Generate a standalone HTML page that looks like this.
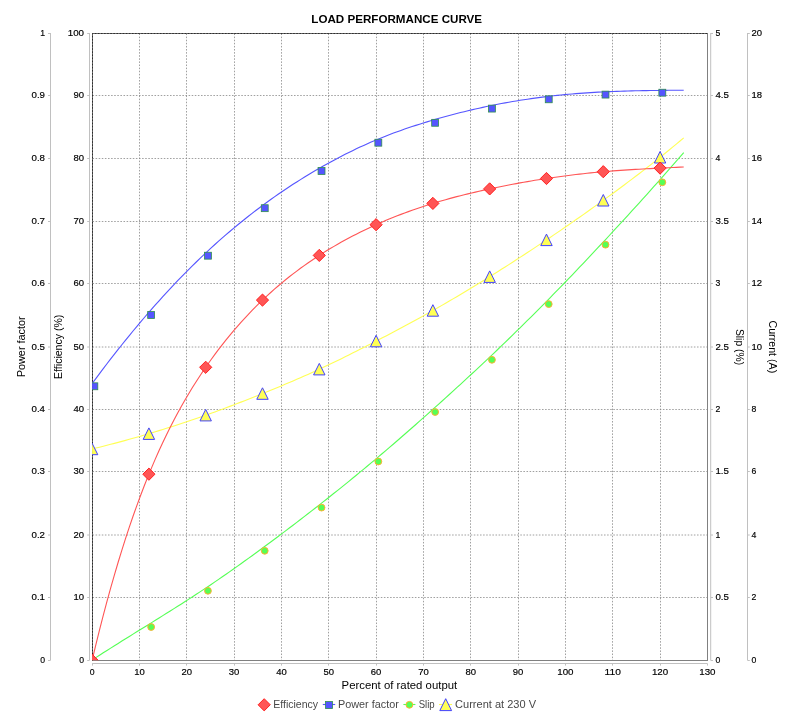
<!DOCTYPE html>
<html><head><meta charset="utf-8"><title>LOAD PERFORMANCE CURVE</title>
<style>html,body{margin:0;padding:0;background:#fff;}svg{display:block;will-change:transform;}text{font-family:"Liberation Sans",sans-serif;}</style></head><body>
<svg width="793" height="721" viewBox="0 0 793 721">
<rect width="793" height="721" fill="#fff"/>
<clipPath id="pc"><rect x="92.1" y="33.0" width="615.3" height="627.3"/></clipPath>
<text x="311.3" y="23.2" font-size="11.2" font-weight="bold" fill="#000" textLength="170.8" lengthAdjust="spacingAndGlyphs">LOAD PERFORMANCE CURVE</text>
<g stroke="#c0c0c0" stroke-width="1" fill="none">
<line x1="50.5" y1="33.0" x2="50.5" y2="660.3"/>
<line x1="89.5" y1="33.0" x2="89.5" y2="660.3"/>
<line x1="710.7" y1="33.0" x2="710.7" y2="660.3"/>
<line x1="747.5" y1="33.0" x2="747.5" y2="660.3"/>
<line x1="92.1" y1="663.5" x2="707.4" y2="663.5"/>
<line x1="48" y1="660.50" x2="50.5" y2="660.50"/>
<line x1="87.2" y1="660.50" x2="89.5" y2="660.50"/>
<line x1="710.7" y1="660.50" x2="713" y2="660.50"/>
<line x1="747.5" y1="660.50" x2="749.8" y2="660.50"/>
<line x1="48" y1="597.50" x2="50.5" y2="597.50"/>
<line x1="87.2" y1="597.50" x2="89.5" y2="597.50"/>
<line x1="710.7" y1="597.50" x2="713" y2="597.50"/>
<line x1="747.5" y1="597.50" x2="749.8" y2="597.50"/>
<line x1="48" y1="535.00" x2="50.5" y2="535.00"/>
<line x1="87.2" y1="535.00" x2="89.5" y2="535.00"/>
<line x1="710.7" y1="535.00" x2="713" y2="535.00"/>
<line x1="747.5" y1="535.00" x2="749.8" y2="535.00"/>
<line x1="48" y1="471.50" x2="50.5" y2="471.50"/>
<line x1="87.2" y1="471.50" x2="89.5" y2="471.50"/>
<line x1="710.7" y1="471.50" x2="713" y2="471.50"/>
<line x1="747.5" y1="471.50" x2="749.8" y2="471.50"/>
<line x1="48" y1="409.50" x2="50.5" y2="409.50"/>
<line x1="87.2" y1="409.50" x2="89.5" y2="409.50"/>
<line x1="710.7" y1="409.50" x2="713" y2="409.50"/>
<line x1="747.5" y1="409.50" x2="749.8" y2="409.50"/>
<line x1="48" y1="347.00" x2="50.5" y2="347.00"/>
<line x1="87.2" y1="347.00" x2="89.5" y2="347.00"/>
<line x1="710.7" y1="347.00" x2="713" y2="347.00"/>
<line x1="747.5" y1="347.00" x2="749.8" y2="347.00"/>
<line x1="48" y1="283.50" x2="50.5" y2="283.50"/>
<line x1="87.2" y1="283.50" x2="89.5" y2="283.50"/>
<line x1="710.7" y1="283.50" x2="713" y2="283.50"/>
<line x1="747.5" y1="283.50" x2="749.8" y2="283.50"/>
<line x1="48" y1="221.50" x2="50.5" y2="221.50"/>
<line x1="87.2" y1="221.50" x2="89.5" y2="221.50"/>
<line x1="710.7" y1="221.50" x2="713" y2="221.50"/>
<line x1="747.5" y1="221.50" x2="749.8" y2="221.50"/>
<line x1="48" y1="158.50" x2="50.5" y2="158.50"/>
<line x1="87.2" y1="158.50" x2="89.5" y2="158.50"/>
<line x1="710.7" y1="158.50" x2="713" y2="158.50"/>
<line x1="747.5" y1="158.50" x2="749.8" y2="158.50"/>
<line x1="48" y1="95.50" x2="50.5" y2="95.50"/>
<line x1="87.2" y1="95.50" x2="89.5" y2="95.50"/>
<line x1="710.7" y1="95.50" x2="713" y2="95.50"/>
<line x1="747.5" y1="95.50" x2="749.8" y2="95.50"/>
<line x1="48" y1="33.50" x2="50.5" y2="33.50"/>
<line x1="87.2" y1="33.50" x2="89.5" y2="33.50"/>
<line x1="710.7" y1="33.50" x2="713" y2="33.50"/>
<line x1="747.5" y1="33.50" x2="749.8" y2="33.50"/>
<line x1="92.50" y1="663.5" x2="92.50" y2="665.6"/>
<line x1="139.50" y1="663.5" x2="139.50" y2="665.6"/>
<line x1="186.50" y1="663.5" x2="186.50" y2="665.6"/>
<line x1="234.50" y1="663.5" x2="234.50" y2="665.6"/>
<line x1="281.50" y1="663.5" x2="281.50" y2="665.6"/>
<line x1="328.50" y1="663.5" x2="328.50" y2="665.6"/>
<line x1="376.50" y1="663.5" x2="376.50" y2="665.6"/>
<line x1="423.50" y1="663.5" x2="423.50" y2="665.6"/>
<line x1="470.50" y1="663.5" x2="470.50" y2="665.6"/>
<line x1="518.50" y1="663.5" x2="518.50" y2="665.6"/>
<line x1="565.50" y1="663.5" x2="565.50" y2="665.6"/>
<line x1="612.50" y1="663.5" x2="612.50" y2="665.6"/>
<line x1="660.50" y1="663.5" x2="660.50" y2="665.6"/>
<line x1="707.50" y1="663.5" x2="707.50" y2="665.6"/>
</g>
<g stroke="#808080" stroke-width="0.75" stroke-dasharray="1.55 1.55" fill="none">
<line x1="92.5" y1="597.50" x2="707.5" y2="597.50"/>
<line x1="92.5" y1="535.00" x2="707.5" y2="535.00"/>
<line x1="92.5" y1="471.50" x2="707.5" y2="471.50"/>
<line x1="92.5" y1="409.50" x2="707.5" y2="409.50"/>
<line x1="92.5" y1="347.00" x2="707.5" y2="347.00"/>
<line x1="92.5" y1="283.50" x2="707.5" y2="283.50"/>
<line x1="92.5" y1="221.50" x2="707.5" y2="221.50"/>
<line x1="92.5" y1="158.50" x2="707.5" y2="158.50"/>
<line x1="92.5" y1="95.50" x2="707.5" y2="95.50"/>
<line x1="139.50" y1="33.5" x2="139.50" y2="660.5"/>
<line x1="186.50" y1="33.5" x2="186.50" y2="660.5"/>
<line x1="234.50" y1="33.5" x2="234.50" y2="660.5"/>
<line x1="281.50" y1="33.5" x2="281.50" y2="660.5"/>
<line x1="328.50" y1="33.5" x2="328.50" y2="660.5"/>
<line x1="376.50" y1="33.5" x2="376.50" y2="660.5"/>
<line x1="423.50" y1="33.5" x2="423.50" y2="660.5"/>
<line x1="470.50" y1="33.5" x2="470.50" y2="660.5"/>
<line x1="518.50" y1="33.5" x2="518.50" y2="660.5"/>
<line x1="565.50" y1="33.5" x2="565.50" y2="660.5"/>
<line x1="612.50" y1="33.5" x2="612.50" y2="660.5"/>
<line x1="660.50" y1="33.5" x2="660.50" y2="660.5"/>
</g>
<rect x="92.5" y="33.5" width="615" height="627" fill="none" stroke="#808080" stroke-width="1"/>
<path d="M92.5,660.5 L92.5,33.5 L707.5,33.5" fill="none" stroke="#6c6c6c" stroke-width="1"/>
<path d="M92.5,660.5 L92.5,33.5 L707.5,33.5" fill="none" stroke="#2c2c2c" stroke-width="1" stroke-dasharray="1.55 1.55"/>
<g clip-path="url(#pc)">
<path d="M92.10,449.00 L95.82,448.09 L99.54,447.17 L103.26,446.24 L106.98,445.29 L110.70,444.34 L114.43,443.36 L118.15,442.37 L121.87,441.37 L125.59,440.36 L129.31,439.33 L133.03,438.29 L136.75,437.24 L140.47,436.17 L144.19,435.09 L147.91,433.99 L151.64,432.88 L155.36,431.76 L159.08,430.62 L162.80,429.47 L166.52,428.31 L170.24,427.13 L173.96,425.94 L177.68,424.73 L181.40,423.51 L185.12,422.28 L188.85,421.03 L192.57,419.77 L196.29,418.49 L200.01,417.20 L203.73,415.89 L207.45,414.58 L211.17,413.24 L214.89,411.90 L218.61,410.54 L222.33,409.17 L226.06,407.78 L229.78,406.38 L233.50,404.97 L237.22,403.55 L240.94,402.12 L244.66,400.67 L248.38,399.22 L252.10,397.75 L255.82,396.27 L259.54,394.78 L263.26,393.29 L266.99,391.78 L270.71,390.26 L274.43,388.74 L278.15,387.20 L281.87,385.64 L285.59,384.08 L289.31,382.50 L293.03,380.91 L296.75,379.30 L300.47,377.67 L304.20,376.03 L307.92,374.38 L311.64,372.70 L315.36,371.01 L319.08,369.30 L322.80,367.57 L326.52,365.82 L330.24,364.05 L333.96,362.26 L337.68,360.46 L341.41,358.64 L345.13,356.81 L348.85,354.96 L352.57,353.10 L356.29,351.23 L360.01,349.35 L363.73,347.46 L367.45,345.55 L371.17,343.64 L374.89,341.72 L378.61,339.79 L382.34,337.85 L386.06,335.91 L389.78,333.95 L393.50,331.99 L397.22,330.02 L400.94,328.03 L404.66,326.04 L408.38,324.03 L412.10,322.01 L415.82,319.98 L419.55,317.94 L423.27,315.88 L426.99,313.81 L430.71,311.73 L434.43,309.62 L438.15,307.51 L441.87,305.37 L445.59,303.23 L449.31,301.06 L453.03,298.89 L456.76,296.69 L460.48,294.49 L464.20,292.27 L467.92,290.03 L471.64,287.79 L475.36,285.52 L479.08,283.25 L482.80,280.96 L486.52,278.66 L490.24,276.35 L493.97,274.02 L497.69,271.68 L501.41,269.33 L505.13,266.97 L508.85,264.59 L512.57,262.21 L516.29,259.81 L520.01,257.40 L523.73,254.97 L527.45,252.54 L531.17,250.09 L534.90,247.63 L538.62,245.16 L542.34,242.67 L546.06,240.18 L549.78,237.67 L553.50,235.16 L557.22,232.63 L560.94,230.08 L564.66,227.53 L568.38,224.96 L572.11,222.39 L575.83,219.80 L579.55,217.19 L583.27,214.58 L586.99,211.95 L590.71,209.31 L594.43,206.66 L598.15,203.99 L601.87,201.31 L605.59,198.62 L609.32,195.91 L613.04,193.19 L616.76,190.46 L620.48,187.71 L624.20,184.94 L627.92,182.16 L631.64,179.36 L635.36,176.54 L639.08,173.70 L642.80,170.84 L646.52,167.96 L650.25,165.06 L653.97,162.14 L657.69,159.20 L661.41,156.23 L665.13,153.24 L668.85,150.22 L672.57,147.18 L676.29,144.11 L680.01,141.02 L683.73,137.90" fill="none" stroke="#ffff55" stroke-width="1.1"/>
<path d="M92.10,443.20 L97.80,454.70 L86.40,454.70Z" fill="#ffff55" stroke="#4040ff" stroke-width="1"/>
<path d="M148.90,427.90 L154.60,439.40 L143.20,439.40Z" fill="#ffff55" stroke="#4040ff" stroke-width="1"/>
<path d="M205.69,409.40 L211.39,420.90 L199.99,420.90Z" fill="#ffff55" stroke="#4040ff" stroke-width="1"/>
<path d="M262.49,387.80 L268.19,399.30 L256.79,399.30Z" fill="#ffff55" stroke="#4040ff" stroke-width="1"/>
<path d="M319.29,363.40 L324.99,374.90 L313.59,374.90Z" fill="#ffff55" stroke="#4040ff" stroke-width="1"/>
<path d="M376.08,335.30 L381.78,346.80 L370.38,346.80Z" fill="#ffff55" stroke="#4040ff" stroke-width="1"/>
<path d="M432.88,304.70 L438.58,316.20 L427.18,316.20Z" fill="#ffff55" stroke="#4040ff" stroke-width="1"/>
<path d="M489.68,270.90 L495.38,282.40 L483.98,282.40Z" fill="#ffff55" stroke="#4040ff" stroke-width="1"/>
<path d="M546.48,234.10 L552.18,245.60 L540.78,245.60Z" fill="#ffff55" stroke="#4040ff" stroke-width="1"/>
<path d="M603.27,194.50 L608.97,206.00 L597.57,206.00Z" fill="#ffff55" stroke="#4040ff" stroke-width="1"/>
<path d="M660.07,151.50 L665.77,163.00 L654.37,163.00Z" fill="#ffff55" stroke="#4040ff" stroke-width="1"/>
<path d="M92.10,660.00 L95.82,657.59 L99.54,655.20 L103.26,652.82 L106.98,650.45 L110.70,648.09 L114.43,645.75 L118.15,643.41 L121.87,641.09 L125.59,638.76 L129.31,636.45 L133.03,634.14 L136.75,631.83 L140.47,629.52 L144.19,627.22 L147.91,624.91 L151.64,622.60 L155.36,620.29 L159.08,617.97 L162.80,615.65 L166.52,613.32 L170.24,610.99 L173.96,608.64 L177.68,606.29 L181.40,603.92 L185.12,601.54 L188.85,599.15 L192.57,596.74 L196.29,594.31 L200.01,591.87 L203.73,589.41 L207.45,586.93 L211.17,584.42 L214.89,581.90 L218.61,579.36 L222.33,576.80 L226.06,574.22 L229.78,571.62 L233.50,569.01 L237.22,566.37 L240.94,563.73 L244.66,561.06 L248.38,558.38 L252.10,555.69 L255.82,552.98 L259.54,550.26 L263.26,547.53 L266.99,544.78 L270.71,542.03 L274.43,539.25 L278.15,536.47 L281.87,533.68 L285.59,530.87 L289.31,528.05 L293.03,525.22 L296.75,522.37 L300.47,519.52 L304.20,516.65 L307.92,513.77 L311.64,510.88 L315.36,507.98 L319.08,505.06 L322.80,502.14 L326.52,499.20 L330.24,496.25 L333.96,493.29 L337.68,490.32 L341.41,487.33 L345.13,484.33 L348.85,481.32 L352.57,478.29 L356.29,475.25 L360.01,472.19 L363.73,469.12 L367.45,466.03 L371.17,462.92 L374.89,459.80 L378.61,456.66 L382.34,453.51 L386.06,450.34 L389.78,447.16 L393.50,443.96 L397.22,440.74 L400.94,437.51 L404.66,434.27 L408.38,431.02 L412.10,427.75 L415.82,424.47 L419.55,421.18 L423.27,417.88 L426.99,414.57 L430.71,411.24 L434.43,407.91 L438.15,404.57 L441.87,401.22 L445.59,397.86 L449.31,394.49 L453.03,391.11 L456.76,387.71 L460.48,384.30 L464.20,380.88 L467.92,377.45 L471.64,374.01 L475.36,370.55 L479.08,367.07 L482.80,363.59 L486.52,360.08 L490.24,356.56 L493.97,353.03 L497.69,349.48 L501.41,345.91 L505.13,342.33 L508.85,338.73 L512.57,335.11 L516.29,331.48 L520.01,327.83 L523.73,324.17 L527.45,320.48 L531.17,316.79 L534.90,313.07 L538.62,309.34 L542.34,305.59 L546.06,301.82 L549.78,298.04 L553.50,294.24 L557.22,290.42 L560.94,286.59 L564.66,282.75 L568.38,278.88 L572.11,275.01 L575.83,271.11 L579.55,267.21 L583.27,263.29 L586.99,259.36 L590.71,255.41 L594.43,251.45 L598.15,247.48 L601.87,243.50 L605.59,239.51 L609.32,235.50 L613.04,231.49 L616.76,227.46 L620.48,223.42 L624.20,219.36 L627.92,215.30 L631.64,211.22 L635.36,207.13 L639.08,203.02 L642.80,198.90 L646.52,194.77 L650.25,190.62 L653.97,186.46 L657.69,182.28 L661.41,178.09 L665.13,173.88 L668.85,169.66 L672.57,165.42 L676.29,161.16 L680.01,156.89 L683.73,152.60" fill="none" stroke="#55ff55" stroke-width="1.1"/>
<circle cx="151.15" cy="627.00" r="3.4" fill="#55ff55" stroke="#ffb030" stroke-width="1"/>
<circle cx="207.94" cy="590.80" r="3.4" fill="#55ff55" stroke="#ffb030" stroke-width="1"/>
<circle cx="264.74" cy="550.80" r="3.4" fill="#55ff55" stroke="#ffb030" stroke-width="1"/>
<circle cx="321.54" cy="507.60" r="3.4" fill="#55ff55" stroke="#ffb030" stroke-width="1"/>
<circle cx="378.33" cy="461.50" r="3.4" fill="#55ff55" stroke="#ffb030" stroke-width="1"/>
<circle cx="435.13" cy="412.00" r="3.4" fill="#55ff55" stroke="#ffb030" stroke-width="1"/>
<circle cx="491.93" cy="359.80" r="3.4" fill="#55ff55" stroke="#ffb030" stroke-width="1"/>
<circle cx="548.73" cy="304.10" r="3.4" fill="#55ff55" stroke="#ffb030" stroke-width="1"/>
<circle cx="605.52" cy="244.70" r="3.4" fill="#55ff55" stroke="#ffb030" stroke-width="1"/>
<circle cx="662.32" cy="182.30" r="3.4" fill="#55ff55" stroke="#ffb030" stroke-width="1"/>
<path d="M92.10,383.60 L95.82,378.56 L99.54,373.58 L103.26,368.65 L106.98,363.76 L110.70,358.93 L114.43,354.15 L118.15,349.42 L121.87,344.74 L125.59,340.12 L129.31,335.54 L133.03,331.02 L136.75,326.54 L140.47,322.12 L144.19,317.75 L147.91,313.43 L151.64,309.16 L155.36,304.95 L159.08,300.78 L162.80,296.67 L166.52,292.61 L170.24,288.60 L173.96,284.64 L177.68,280.74 L181.40,276.88 L185.12,273.08 L188.85,269.33 L192.57,265.63 L196.29,261.99 L200.01,258.39 L203.73,254.85 L207.45,251.36 L211.17,247.92 L214.89,244.53 L218.61,241.20 L222.33,237.91 L226.06,234.67 L229.78,231.48 L233.50,228.35 L237.22,225.26 L240.94,222.21 L244.66,219.22 L248.38,216.27 L252.10,213.36 L255.82,210.51 L259.54,207.70 L263.26,204.93 L266.99,202.20 L270.71,199.52 L274.43,196.89 L278.15,194.29 L281.87,191.74 L285.59,189.23 L289.31,186.76 L293.03,184.33 L296.75,181.94 L300.47,179.59 L304.20,177.28 L307.92,175.01 L311.64,172.78 L315.36,170.58 L319.08,168.42 L322.80,166.30 L326.52,164.21 L330.24,162.16 L333.96,160.15 L337.68,158.17 L341.41,156.23 L345.13,154.33 L348.85,152.47 L352.57,150.64 L356.29,148.85 L360.01,147.11 L363.73,145.40 L367.45,143.73 L371.17,142.09 L374.89,140.50 L378.61,138.95 L382.34,137.43 L386.06,135.96 L389.78,134.52 L393.50,133.11 L397.22,131.74 L400.94,130.40 L404.66,129.10 L408.38,127.82 L412.10,126.58 L415.82,125.36 L419.55,124.17 L423.27,123.00 L426.99,121.86 L430.71,120.74 L434.43,119.65 L438.15,118.57 L441.87,117.52 L445.59,116.49 L449.31,115.48 L453.03,114.49 L456.76,113.53 L460.48,112.58 L464.20,111.66 L467.92,110.76 L471.64,109.87 L475.36,109.01 L479.08,108.17 L482.80,107.36 L486.52,106.56 L490.24,105.78 L493.97,105.03 L497.69,104.29 L501.41,103.58 L505.13,102.89 L508.85,102.22 L512.57,101.57 L516.29,100.94 L520.01,100.33 L523.73,99.74 L527.45,99.17 L531.17,98.63 L534.90,98.10 L538.62,97.60 L542.34,97.11 L546.06,96.65 L549.78,96.21 L553.50,95.79 L557.22,95.38 L560.94,95.00 L564.66,94.64 L568.38,94.30 L572.11,93.97 L575.83,93.66 L579.55,93.37 L583.27,93.10 L586.99,92.84 L590.71,92.60 L594.43,92.37 L598.15,92.16 L601.87,91.97 L605.59,91.79 L609.32,91.62 L613.04,91.47 L616.76,91.33 L620.48,91.20 L624.20,91.08 L627.92,90.98 L631.64,90.88 L635.36,90.79 L639.08,90.71 L642.80,90.64 L646.52,90.58 L650.25,90.52 L653.97,90.47 L657.69,90.43 L661.41,90.39 L665.13,90.35 L668.85,90.32 L672.57,90.28 L676.29,90.25 L680.01,90.23 L683.73,90.20" fill="none" stroke="#5555ff" stroke-width="1.1"/>
<rect x="90.90" y="382.85" width="6.9" height="6.9" fill="#5555ff" stroke="#2f8f4f" stroke-width="0.8"/>
<rect x="147.70" y="311.55" width="6.9" height="6.9" fill="#5555ff" stroke="#2f8f4f" stroke-width="0.8"/>
<rect x="204.49" y="252.25" width="6.9" height="6.9" fill="#5555ff" stroke="#2f8f4f" stroke-width="0.8"/>
<rect x="261.29" y="204.75" width="6.9" height="6.9" fill="#5555ff" stroke="#2f8f4f" stroke-width="0.8"/>
<rect x="318.09" y="167.55" width="6.9" height="6.9" fill="#5555ff" stroke="#2f8f4f" stroke-width="0.8"/>
<rect x="374.88" y="139.25" width="6.9" height="6.9" fill="#5555ff" stroke="#2f8f4f" stroke-width="0.8"/>
<rect x="431.68" y="119.35" width="6.9" height="6.9" fill="#5555ff" stroke="#2f8f4f" stroke-width="0.8"/>
<rect x="488.48" y="105.15" width="6.9" height="6.9" fill="#5555ff" stroke="#2f8f4f" stroke-width="0.8"/>
<rect x="545.28" y="95.85" width="6.9" height="6.9" fill="#5555ff" stroke="#2f8f4f" stroke-width="0.8"/>
<rect x="602.07" y="91.15" width="6.9" height="6.9" fill="#5555ff" stroke="#2f8f4f" stroke-width="0.8"/>
<rect x="658.87" y="89.25" width="6.9" height="6.9" fill="#5555ff" stroke="#2f8f4f" stroke-width="0.8"/>
<path d="M92.10,660.30 L95.82,644.80 L99.54,629.81 L103.26,615.34 L106.98,601.36 L110.70,587.86 L114.43,574.83 L118.15,562.26 L121.87,550.13 L125.59,538.43 L129.31,527.16 L133.03,516.29 L136.75,505.81 L140.47,495.71 L144.19,485.99 L147.91,476.62 L151.64,467.59 L155.36,458.89 L159.08,450.51 L162.80,442.44 L166.52,434.66 L170.24,427.16 L173.96,419.92 L177.68,412.94 L181.40,406.21 L185.12,399.70 L188.85,393.41 L192.57,387.32 L196.29,381.43 L200.01,375.72 L203.73,370.17 L207.45,364.77 L211.17,359.52 L214.89,354.42 L218.61,349.45 L222.33,344.62 L226.06,339.91 L229.78,335.34 L233.50,330.89 L237.22,326.56 L240.94,322.35 L244.66,318.26 L248.38,314.27 L252.10,310.39 L255.82,306.62 L259.54,302.94 L263.26,299.36 L266.99,295.88 L270.71,292.48 L274.43,289.18 L278.15,285.96 L281.87,282.82 L285.59,279.77 L289.31,276.79 L293.03,273.89 L296.75,271.07 L300.47,268.31 L304.20,265.63 L307.92,263.01 L311.64,260.46 L315.36,257.97 L319.08,255.53 L322.80,253.16 L326.52,250.84 L330.24,248.58 L333.96,246.37 L337.68,244.21 L341.41,242.10 L345.13,240.04 L348.85,238.04 L352.57,236.07 L356.29,234.16 L360.01,232.29 L363.73,230.46 L367.45,228.68 L371.17,226.94 L374.89,225.24 L378.61,223.57 L382.34,221.95 L386.06,220.36 L389.78,218.81 L393.50,217.30 L397.22,215.82 L400.94,214.38 L404.66,212.98 L408.38,211.61 L412.10,210.27 L415.82,208.97 L419.55,207.69 L423.27,206.46 L426.99,205.25 L430.71,204.07 L434.43,202.93 L438.15,201.81 L441.87,200.73 L445.59,199.67 L449.31,198.64 L453.03,197.63 L456.76,196.65 L460.48,195.69 L464.20,194.76 L467.92,193.85 L471.64,192.96 L475.36,192.09 L479.08,191.23 L482.80,190.40 L486.52,189.58 L490.24,188.78 L493.97,187.99 L497.69,187.22 L501.41,186.46 L505.13,185.72 L508.85,184.99 L512.57,184.28 L516.29,183.59 L520.01,182.90 L523.73,182.24 L527.45,181.59 L531.17,180.95 L534.90,180.33 L538.62,179.73 L542.34,179.14 L546.06,178.56 L549.78,178.00 L553.50,177.46 L557.22,176.93 L560.94,176.42 L564.66,175.93 L568.38,175.44 L572.11,174.98 L575.83,174.53 L579.55,174.10 L583.27,173.68 L586.99,173.28 L590.71,172.89 L594.43,172.52 L598.15,172.16 L601.87,171.82 L605.59,171.50 L609.32,171.19 L613.04,170.90 L616.76,170.62 L620.48,170.35 L624.20,170.10 L627.92,169.85 L631.64,169.62 L635.36,169.40 L639.08,169.18 L642.80,168.98 L646.52,168.78 L650.25,168.58 L653.97,168.40 L657.69,168.21 L661.41,168.04 L665.13,167.86 L668.85,167.69 L672.57,167.52 L676.29,167.34 L680.01,167.17 L683.73,167.00" fill="none" stroke="#ff5555" stroke-width="1.1"/>
<path d="M92.10,654.20 L98.20,660.30 L92.10,666.40 L86.00,660.30Z" fill="#ff5555" stroke="#ff2020" stroke-width="1"/>
<path d="M148.90,468.10 L155.00,474.20 L148.90,480.30 L142.80,474.20Z" fill="#ff5555" stroke="#ff2020" stroke-width="1"/>
<path d="M205.69,361.20 L211.79,367.30 L205.69,373.40 L199.59,367.30Z" fill="#ff5555" stroke="#ff2020" stroke-width="1"/>
<path d="M262.49,294.00 L268.59,300.10 L262.49,306.20 L256.39,300.10Z" fill="#ff5555" stroke="#ff2020" stroke-width="1"/>
<path d="M319.29,249.30 L325.39,255.40 L319.29,261.50 L313.19,255.40Z" fill="#ff5555" stroke="#ff2020" stroke-width="1"/>
<path d="M376.08,218.60 L382.18,224.70 L376.08,230.80 L369.98,224.70Z" fill="#ff5555" stroke="#ff2020" stroke-width="1"/>
<path d="M432.88,197.30 L438.98,203.40 L432.88,209.50 L426.78,203.40Z" fill="#ff5555" stroke="#ff2020" stroke-width="1"/>
<path d="M489.68,182.80 L495.78,188.90 L489.68,195.00 L483.58,188.90Z" fill="#ff5555" stroke="#ff2020" stroke-width="1"/>
<path d="M546.48,172.40 L552.58,178.50 L546.48,184.60 L540.38,178.50Z" fill="#ff5555" stroke="#ff2020" stroke-width="1"/>
<path d="M603.27,165.60 L609.37,171.70 L603.27,177.80 L597.17,171.70Z" fill="#ff5555" stroke="#ff2020" stroke-width="1"/>
<path d="M660.07,162.00 L666.17,168.10 L660.07,174.20 L653.97,168.10Z" fill="#ff5555" stroke="#ff2020" stroke-width="1"/>
</g>
<text x="45.00" y="663.10" font-size="9.9" text-anchor="end" fill="#000" stroke="#000" stroke-width="0.18" textLength="4.83" lengthAdjust="spacingAndGlyphs">0</text>
<text x="84.00" y="663.10" font-size="9.9" text-anchor="end" fill="#000" stroke="#000" stroke-width="0.18" textLength="4.83" lengthAdjust="spacingAndGlyphs">0</text>
<text x="715.40" y="663.10" font-size="9.9" text-anchor="start" fill="#000" stroke="#000" stroke-width="0.18" textLength="4.83" lengthAdjust="spacingAndGlyphs">0</text>
<text x="751.60" y="663.10" font-size="9.9" text-anchor="start" fill="#000" stroke="#000" stroke-width="0.18" textLength="4.83" lengthAdjust="spacingAndGlyphs">0</text>
<text x="45.00" y="600.10" font-size="9.9" text-anchor="end" fill="#000" stroke="#000" stroke-width="0.18" textLength="13.46" lengthAdjust="spacingAndGlyphs">0.1</text>
<text x="84.00" y="600.10" font-size="9.9" text-anchor="end" fill="#000" stroke="#000" stroke-width="0.18" textLength="10.56" lengthAdjust="spacingAndGlyphs">10</text>
<text x="715.40" y="600.10" font-size="9.9" text-anchor="start" fill="#000" stroke="#000" stroke-width="0.18" textLength="13.46" lengthAdjust="spacingAndGlyphs">0.5</text>
<text x="751.60" y="600.10" font-size="9.9" text-anchor="start" fill="#000" stroke="#000" stroke-width="0.18" textLength="4.83" lengthAdjust="spacingAndGlyphs">2</text>
<text x="45.00" y="537.60" font-size="9.9" text-anchor="end" fill="#000" stroke="#000" stroke-width="0.18" textLength="13.46" lengthAdjust="spacingAndGlyphs">0.2</text>
<text x="84.00" y="537.60" font-size="9.9" text-anchor="end" fill="#000" stroke="#000" stroke-width="0.18" textLength="10.56" lengthAdjust="spacingAndGlyphs">20</text>
<text x="715.40" y="537.60" font-size="9.9" text-anchor="start" fill="#000" stroke="#000" stroke-width="0.18" textLength="4.83" lengthAdjust="spacingAndGlyphs">1</text>
<text x="751.60" y="537.60" font-size="9.9" text-anchor="start" fill="#000" stroke="#000" stroke-width="0.18" textLength="4.83" lengthAdjust="spacingAndGlyphs">4</text>
<text x="45.00" y="474.10" font-size="9.9" text-anchor="end" fill="#000" stroke="#000" stroke-width="0.18" textLength="13.46" lengthAdjust="spacingAndGlyphs">0.3</text>
<text x="84.00" y="474.10" font-size="9.9" text-anchor="end" fill="#000" stroke="#000" stroke-width="0.18" textLength="10.56" lengthAdjust="spacingAndGlyphs">30</text>
<text x="715.40" y="474.10" font-size="9.9" text-anchor="start" fill="#000" stroke="#000" stroke-width="0.18" textLength="13.46" lengthAdjust="spacingAndGlyphs">1.5</text>
<text x="751.60" y="474.10" font-size="9.9" text-anchor="start" fill="#000" stroke="#000" stroke-width="0.18" textLength="4.83" lengthAdjust="spacingAndGlyphs">6</text>
<text x="45.00" y="412.10" font-size="9.9" text-anchor="end" fill="#000" stroke="#000" stroke-width="0.18" textLength="13.46" lengthAdjust="spacingAndGlyphs">0.4</text>
<text x="84.00" y="412.10" font-size="9.9" text-anchor="end" fill="#000" stroke="#000" stroke-width="0.18" textLength="10.56" lengthAdjust="spacingAndGlyphs">40</text>
<text x="715.40" y="412.10" font-size="9.9" text-anchor="start" fill="#000" stroke="#000" stroke-width="0.18" textLength="4.83" lengthAdjust="spacingAndGlyphs">2</text>
<text x="751.60" y="412.10" font-size="9.9" text-anchor="start" fill="#000" stroke="#000" stroke-width="0.18" textLength="4.83" lengthAdjust="spacingAndGlyphs">8</text>
<text x="45.00" y="349.60" font-size="9.9" text-anchor="end" fill="#000" stroke="#000" stroke-width="0.18" textLength="13.46" lengthAdjust="spacingAndGlyphs">0.5</text>
<text x="84.00" y="349.60" font-size="9.9" text-anchor="end" fill="#000" stroke="#000" stroke-width="0.18" textLength="10.56" lengthAdjust="spacingAndGlyphs">50</text>
<text x="715.40" y="349.60" font-size="9.9" text-anchor="start" fill="#000" stroke="#000" stroke-width="0.18" textLength="13.46" lengthAdjust="spacingAndGlyphs">2.5</text>
<text x="751.60" y="349.60" font-size="9.9" text-anchor="start" fill="#000" stroke="#000" stroke-width="0.18" textLength="10.56" lengthAdjust="spacingAndGlyphs">10</text>
<text x="45.00" y="286.10" font-size="9.9" text-anchor="end" fill="#000" stroke="#000" stroke-width="0.18" textLength="13.46" lengthAdjust="spacingAndGlyphs">0.6</text>
<text x="84.00" y="286.10" font-size="9.9" text-anchor="end" fill="#000" stroke="#000" stroke-width="0.18" textLength="10.56" lengthAdjust="spacingAndGlyphs">60</text>
<text x="715.40" y="286.10" font-size="9.9" text-anchor="start" fill="#000" stroke="#000" stroke-width="0.18" textLength="4.83" lengthAdjust="spacingAndGlyphs">3</text>
<text x="751.60" y="286.10" font-size="9.9" text-anchor="start" fill="#000" stroke="#000" stroke-width="0.18" textLength="10.56" lengthAdjust="spacingAndGlyphs">12</text>
<text x="45.00" y="224.10" font-size="9.9" text-anchor="end" fill="#000" stroke="#000" stroke-width="0.18" textLength="13.46" lengthAdjust="spacingAndGlyphs">0.7</text>
<text x="84.00" y="224.10" font-size="9.9" text-anchor="end" fill="#000" stroke="#000" stroke-width="0.18" textLength="10.56" lengthAdjust="spacingAndGlyphs">70</text>
<text x="715.40" y="224.10" font-size="9.9" text-anchor="start" fill="#000" stroke="#000" stroke-width="0.18" textLength="13.46" lengthAdjust="spacingAndGlyphs">3.5</text>
<text x="751.60" y="224.10" font-size="9.9" text-anchor="start" fill="#000" stroke="#000" stroke-width="0.18" textLength="10.56" lengthAdjust="spacingAndGlyphs">14</text>
<text x="45.00" y="161.10" font-size="9.9" text-anchor="end" fill="#000" stroke="#000" stroke-width="0.18" textLength="13.46" lengthAdjust="spacingAndGlyphs">0.8</text>
<text x="84.00" y="161.10" font-size="9.9" text-anchor="end" fill="#000" stroke="#000" stroke-width="0.18" textLength="10.56" lengthAdjust="spacingAndGlyphs">80</text>
<text x="715.40" y="161.10" font-size="9.9" text-anchor="start" fill="#000" stroke="#000" stroke-width="0.18" textLength="4.83" lengthAdjust="spacingAndGlyphs">4</text>
<text x="751.60" y="161.10" font-size="9.9" text-anchor="start" fill="#000" stroke="#000" stroke-width="0.18" textLength="10.56" lengthAdjust="spacingAndGlyphs">16</text>
<text x="45.00" y="98.10" font-size="9.9" text-anchor="end" fill="#000" stroke="#000" stroke-width="0.18" textLength="13.46" lengthAdjust="spacingAndGlyphs">0.9</text>
<text x="84.00" y="98.10" font-size="9.9" text-anchor="end" fill="#000" stroke="#000" stroke-width="0.18" textLength="10.56" lengthAdjust="spacingAndGlyphs">90</text>
<text x="715.40" y="98.10" font-size="9.9" text-anchor="start" fill="#000" stroke="#000" stroke-width="0.18" textLength="13.46" lengthAdjust="spacingAndGlyphs">4.5</text>
<text x="751.60" y="98.10" font-size="9.9" text-anchor="start" fill="#000" stroke="#000" stroke-width="0.18" textLength="10.56" lengthAdjust="spacingAndGlyphs">18</text>
<text x="45.00" y="36.10" font-size="9.9" text-anchor="end" fill="#000" stroke="#000" stroke-width="0.18" textLength="4.83" lengthAdjust="spacingAndGlyphs">1</text>
<text x="84.00" y="36.10" font-size="9.9" text-anchor="end" fill="#000" stroke="#000" stroke-width="0.18" textLength="16.29" lengthAdjust="spacingAndGlyphs">100</text>
<text x="715.40" y="36.10" font-size="9.9" text-anchor="start" fill="#000" stroke="#000" stroke-width="0.18" textLength="4.83" lengthAdjust="spacingAndGlyphs">5</text>
<text x="751.60" y="36.10" font-size="9.9" text-anchor="start" fill="#000" stroke="#000" stroke-width="0.18" textLength="10.56" lengthAdjust="spacingAndGlyphs">20</text>
<text x="92.10" y="675.10" font-size="9.9" text-anchor="middle" fill="#000" stroke="#000" stroke-width="0.18" textLength="4.83" lengthAdjust="spacingAndGlyphs">0</text>
<text x="139.43" y="675.10" font-size="9.9" text-anchor="middle" fill="#000" stroke="#000" stroke-width="0.18" textLength="10.56" lengthAdjust="spacingAndGlyphs">10</text>
<text x="186.76" y="675.10" font-size="9.9" text-anchor="middle" fill="#000" stroke="#000" stroke-width="0.18" textLength="10.56" lengthAdjust="spacingAndGlyphs">20</text>
<text x="234.09" y="675.10" font-size="9.9" text-anchor="middle" fill="#000" stroke="#000" stroke-width="0.18" textLength="10.56" lengthAdjust="spacingAndGlyphs">30</text>
<text x="281.42" y="675.10" font-size="9.9" text-anchor="middle" fill="#000" stroke="#000" stroke-width="0.18" textLength="10.56" lengthAdjust="spacingAndGlyphs">40</text>
<text x="328.75" y="675.10" font-size="9.9" text-anchor="middle" fill="#000" stroke="#000" stroke-width="0.18" textLength="10.56" lengthAdjust="spacingAndGlyphs">50</text>
<text x="376.08" y="675.10" font-size="9.9" text-anchor="middle" fill="#000" stroke="#000" stroke-width="0.18" textLength="10.56" lengthAdjust="spacingAndGlyphs">60</text>
<text x="423.42" y="675.10" font-size="9.9" text-anchor="middle" fill="#000" stroke="#000" stroke-width="0.18" textLength="10.56" lengthAdjust="spacingAndGlyphs">70</text>
<text x="470.75" y="675.10" font-size="9.9" text-anchor="middle" fill="#000" stroke="#000" stroke-width="0.18" textLength="10.56" lengthAdjust="spacingAndGlyphs">80</text>
<text x="518.08" y="675.10" font-size="9.9" text-anchor="middle" fill="#000" stroke="#000" stroke-width="0.18" textLength="10.56" lengthAdjust="spacingAndGlyphs">90</text>
<text x="565.41" y="675.10" font-size="9.9" text-anchor="middle" fill="#000" stroke="#000" stroke-width="0.18" textLength="16.29" lengthAdjust="spacingAndGlyphs">100</text>
<text x="612.74" y="675.10" font-size="9.9" text-anchor="middle" fill="#000" stroke="#000" stroke-width="0.18" textLength="16.29" lengthAdjust="spacingAndGlyphs">110</text>
<text x="660.07" y="675.10" font-size="9.9" text-anchor="middle" fill="#000" stroke="#000" stroke-width="0.18" textLength="16.29" lengthAdjust="spacingAndGlyphs">120</text>
<text x="707.40" y="675.10" font-size="9.9" text-anchor="middle" fill="#000" stroke="#000" stroke-width="0.18" textLength="16.29" lengthAdjust="spacingAndGlyphs">130</text>
<text x="341.6" y="688.5" font-size="10.3" fill="#000" textLength="115.6" lengthAdjust="spacingAndGlyphs">Percent of rated output</text>
<text transform="translate(25.2,377.3) rotate(-90)" font-size="10.3" fill="#000" textLength="61" lengthAdjust="spacingAndGlyphs">Power factor</text>
<text transform="translate(62.3,378.9) rotate(-90)" font-size="10.3" fill="#000" textLength="64.2" lengthAdjust="spacingAndGlyphs">Efficiency (%)</text>
<text transform="translate(735.7,328.9) rotate(90)" font-size="10.3" fill="#000" textLength="36.2" lengthAdjust="spacingAndGlyphs">Slip (%)</text>
<text transform="translate(769,320.5) rotate(90)" font-size="10.3" fill="#000" textLength="52.7" lengthAdjust="spacingAndGlyphs">Current (A)</text>
<path d="M264.20,698.70 L270.30,704.80 L264.20,710.90 L258.10,704.80Z" fill="#ff5555" stroke="#ff2020" stroke-width="1"/>
<text x="273.2" y="708" font-size="10.3" fill="#484848" textLength="44.9" lengthAdjust="spacingAndGlyphs">Efficiency</text>
<line x1="322.8" y1="704.5" x2="335.2" y2="704.5" stroke="#5555ff" stroke-width="1.1"/>
<rect x="325.50" y="701.60" width="7.0" height="7.0" fill="#5555ff" stroke="#2f8f4f" stroke-width="0.8"/>
<text x="338" y="708" font-size="10.3" fill="#484848" textLength="60.8" lengthAdjust="spacingAndGlyphs">Power factor</text>
<line x1="403.4" y1="704.5" x2="415.4" y2="704.5" stroke="#55ff55" stroke-width="1.1"/>
<circle cx="409.40" cy="704.80" r="3.4" fill="#55ff55" stroke="#ffb030" stroke-width="1"/>
<text x="418.7" y="708" font-size="10.3" fill="#484848" textLength="16" lengthAdjust="spacingAndGlyphs">Slip</text>
<line x1="439" y1="704.5" x2="452" y2="704.5" stroke="#ffff55" stroke-width="1.1"/>
<path d="M445.70,698.70 L451.60,710.60 L439.80,710.60Z" fill="#ffff55" stroke="#4040ff" stroke-width="1"/>
<text x="455.1" y="708" font-size="10.3" fill="#484848" textLength="80.9" lengthAdjust="spacingAndGlyphs">Current at 230 V</text>
</svg></body></html>
